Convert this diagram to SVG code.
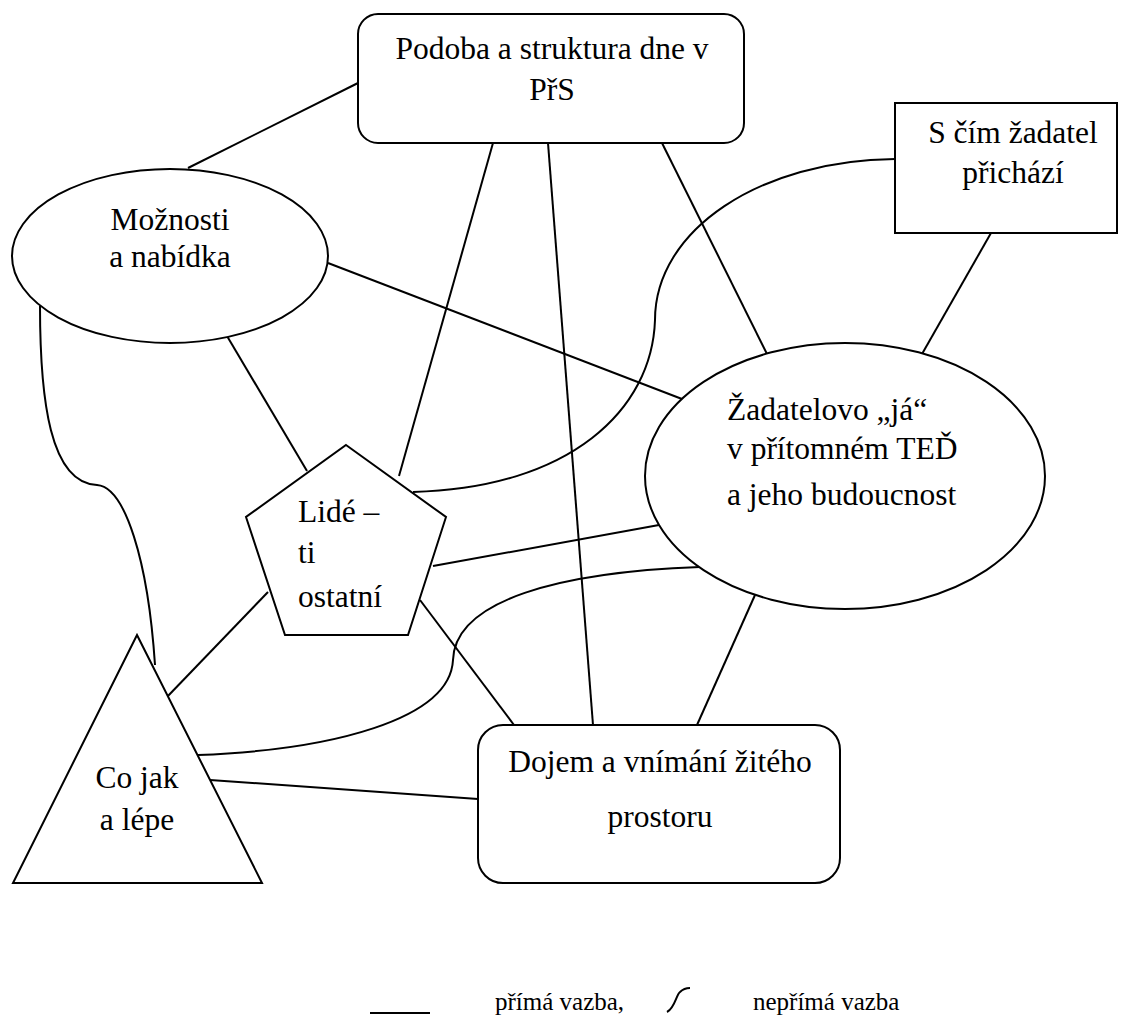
<svg xmlns="http://www.w3.org/2000/svg" width="1121" height="1016" viewBox="0 0 1121 1016">
<style>
.s{fill:#fff;stroke:#000;stroke-width:2}
.c{fill:none;stroke:#000;stroke-width:2}
text{font-family:"Liberation Serif","Times New Roman","DejaVu Serif",serif;font-size:31.5px;fill:#000}
.m{text-anchor:middle}
.lg{font-size:25px}
</style>
<rect width="1121" height="1016" fill="#fff"/>
<g id="connectors">
<line class="c" x1="358" y1="83" x2="188" y2="168"/>
<line class="c" x1="493" y1="143" x2="399" y2="476"/>
<line class="c" x1="548" y1="143" x2="593" y2="725"/>
<line class="c" x1="662" y1="143" x2="767" y2="354"/>
<line class="c" x1="991" y1="233" x2="922" y2="354"/>
<line class="c" x1="328" y1="263" x2="682" y2="399"/>
<line class="c" x1="227" y1="336" x2="307" y2="471"/>
<line class="c" x1="433" y1="566" x2="659" y2="525"/>
<line class="c" x1="420" y1="600" x2="514" y2="725"/>
<line class="c" x1="268" y1="592" x2="167" y2="697"/>
<line class="c" x1="697" y1="725" x2="755" y2="595"/>
<line class="c" x1="210" y1="780" x2="478" y2="799"/>
<path class="c" d="M40,306 C40,400 50,483 97,485 C125,487 148,560 155,665"/>
<path class="c" d="M895,159 C760,160 655,230 655,320 C652,410 570,488 413,492"/>
<path class="c" d="M198,755 C330,750 450,720 453,660 C455,600 560,572 700,567"/>
</g>
<g id="node-podoba">
<rect class="s" x="358" y="14" width="386" height="129" rx="20"/>
<text class="m" x="552" y="59">Podoba a struktura dne v</text>
<text class="m" x="552" y="100">PřS</text>
</g>
<g id="node-scim">
<rect class="s" x="895" y="103" width="222" height="130"/>
<text class="m" x="1013" y="143">S čím žadatel</text>
<text class="m" x="1013" y="183">přichází</text>
</g>
<g id="node-moznosti">
<ellipse class="s" cx="170" cy="256" rx="158" ry="87"/>
<text class="m" x="170" y="230">Možnosti</text>
<text class="m" x="170" y="267">a nabídka</text>
</g>
<g id="node-zadatel">
<ellipse class="s" cx="845" cy="476" rx="200" ry="133"/>
<text x="727" y="420">Žadatelovo „já“</text>
<text x="727" y="459">v přítomném TEĎ</text>
<text x="727" y="505">a jeho budoucnost</text>
</g>
<g id="node-lide">
<polygon class="s" points="346,445 446,517 408,635 285,635 246,517"/>
<text x="298" y="522">Lidé –</text>
<text x="298" y="563">ti</text>
<text x="298" y="607">ostatní</text>
</g>
<g id="node-cojak">
<polygon class="s" points="137,635 262,883 13,883"/>
<text class="m" x="137" y="788">Co jak</text>
<text class="m" x="137" y="830">a lépe</text>
</g>
<g id="node-dojem">
<rect class="s" x="478" y="725" width="362" height="158" rx="25"/>
<text class="m" x="660" y="772">Dojem a vnímání žitého</text>
<text class="m" x="660" y="827">prostoru</text>
</g>
<g id="legend">
<line class="c" x1="370" y1="1013" x2="430" y2="1013"/>
<text class="lg" x="495" y="1010">přímá vazba,</text>
<path class="c" d="M667,1012 C675,1008 676,995 680,992 C683,989 687,988 690,988"/>
<text class="lg" x="753" y="1010">nepřímá vazba</text>
</g>
</svg>
